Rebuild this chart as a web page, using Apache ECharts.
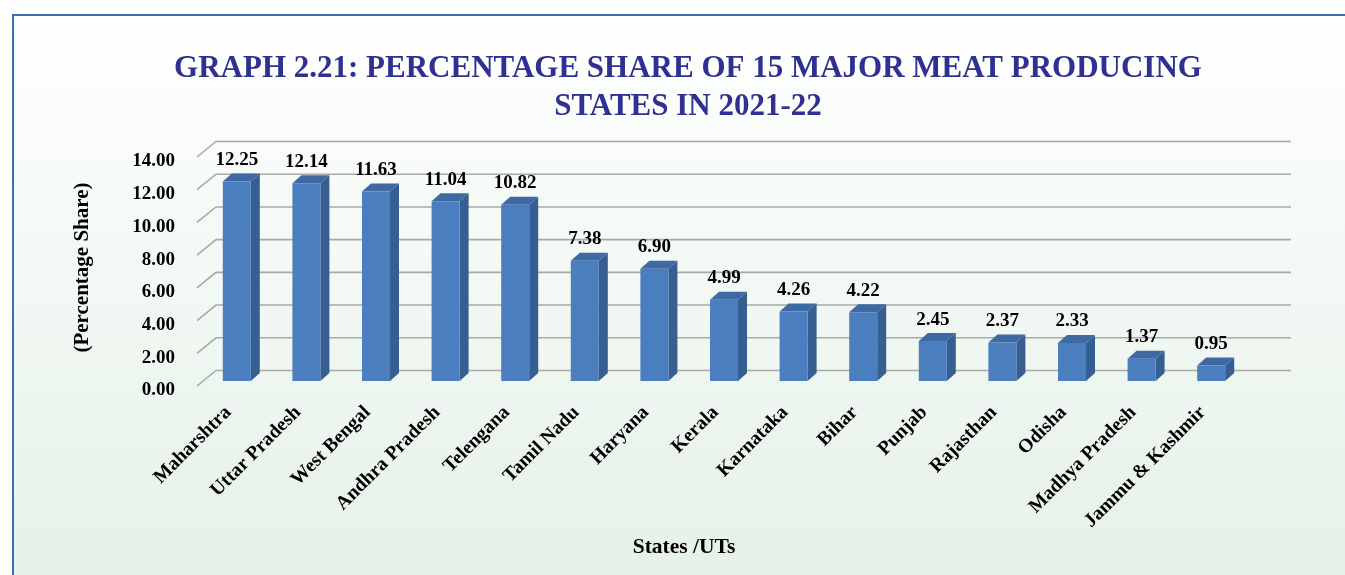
<!DOCTYPE html>
<html>
<head>
<meta charset="utf-8">
<title>Graph 2.21</title>
<script src="https://cdn.jsdelivr.net/npm/echarts@6/dist/echarts.min.js"></script>
<style>
  html, body { margin: 0; padding: 0; background: #fff; overflow: hidden; }
  #chart { width: 1345px; height: 575px; }
</style>
</head>
<body>
<div id="chart"></div>
<script>
// states, in the order of the graph
const states = ['Maharshtra', 'Uttar Pradesh', 'West Bengal', 'Andhra Pradesh', 'Telengana',
  'Tamil Nadu', 'Haryana', 'Kerala', 'Karnataka', 'Bihar', 'Punjab', 'Rajasthan', 'Odisha',
  'Madhya Pradesh', 'Jammu & Kashmir'];
// percentage share 2021-22
const shares = [12.25, 12.14, 11.63, 11.04, 10.82, 7.38, 6.90, 4.99, 4.26, 4.22, 2.45, 2.37, 2.33, 1.37, 0.95];
// y-axis ticks (drawn as the "3d" wall lines)
const yTicks = [0, 2, 4, 6, 8, 10, 12, 14];

const FONT = 'Liberation Serif';
const DEPTH_X = 9, DEPTH_Y = -8;      // bar depth
const WALL_X = 19, WALL_Y = -15.5;    // floor/wall depth

const chart = echarts.init(document.getElementById('chart'));

chart.setOption({
  animation: false,
  graphic: [{
    type: 'rect', z: -10, silent: true,
    shape: { x: 13, y: 15, width: 1400, height: 620 },
    style: {
      fill: new echarts.graphic.LinearGradient(0, 0, 0, 1, [
        { offset: 0, color: '#ffffff' },
        { offset: 1, color: '#e2f0e6' }
      ]),
      stroke: '#3c6eb4', lineWidth: 2
    }
  }],
  title: {
    text: 'GRAPH 2.21: PERCENTAGE SHARE OF 15 MAJOR MEAT PRODUCING\nSTATES IN 2021-22',
    left: 683, top: 45, textAlign: 'center',
    textStyle: { fontFamily: FONT, fontWeight: 'bold', fontSize: 31, lineHeight: 38, color: '#2e3192' }
  },
  // grid 0 = front plane of the floor (axis labels + wall lines), grid 1 = bars
  grid: [
    { left: 197, right: 73, top: 157, bottom: 189 },
    { left: 202, right: 99, top: 153, bottom: 194 }
  ],
  xAxis: [
    { gridIndex: 0, type: 'value', min: 0, max: 1, show: false },
    {
      gridIndex: 1, type: 'category', data: states,
      axisLine: { show: false }, axisTick: { show: false },
      axisLabel: {
        interval: 0, rotate: 45, margin: 20, padding: [0, 12, 0, 0],
        fontFamily: FONT, fontWeight: 'bold', fontSize: 19.5, color: '#000'
      },
      name: 'States /UTs', nameLocation: 'middle', nameGap: 155,
      nameTextStyle: { fontFamily: FONT, fontWeight: 'bold', fontSize: 21.5, color: '#000', padding: [0, 80, 0, 0] }
    }
  ],
  yAxis: [
    {
      gridIndex: 0, type: 'value', min: 0, max: 14, interval: 2,
      axisLine: { show: false }, axisTick: { show: false }, splitLine: { show: false },
      axisLabel: {
        margin: 22, formatter: v => v.toFixed(2), verticalAlign: 'top', lineHeight: 9,
        fontFamily: FONT, fontWeight: 'bold', fontSize: 19, color: '#000'
      },
      name: '(Percentage Share)', nameLocation: 'middle', nameGap: 104, nameRotate: 90,
      nameTextStyle: { fontFamily: FONT, fontWeight: 'bold', fontSize: 21, color: '#000', padding: [0, 0, 0, 8] }
    },
    { gridIndex: 1, type: 'value', min: 0, max: 14, interval: 2, show: false }
  ],
  series: [
    {
      // wall/floor lines
      type: 'custom', xAxisIndex: 0, yAxisIndex: 0, z: 1, silent: true,
      data: yTicks.map(v => [0, v]),
      renderItem(params, api) {
        const cs = params.coordSys;
        const p = api.coord([0, api.value(1)]);
        return {
          type: 'polyline',
          shape: { points: [
            [p[0], p[1]],
            [p[0] + WALL_X, p[1] + WALL_Y],
            [cs.x + cs.width + WALL_X, p[1] + WALL_Y]
          ] },
          style: { stroke: '#a9a9a9', lineWidth: 1.6, fill: null }
        };
      }
    },
    {
      // front face of bars + value labels
      type: 'bar', xAxisIndex: 1, yAxisIndex: 1, z: 3,
      data: shares, barWidth: 28,
      itemStyle: { color: '#4a7ebf' },
      label: {
        show: true, position: 'top', distance: 12,
        formatter: p => p.value.toFixed(2),
        fontFamily: FONT, fontWeight: 'bold', fontSize: 19, color: '#000'
      }
    },
    {
      // side + top faces
      type: 'custom', xAxisIndex: 1, yAxisIndex: 1, z: 2, silent: true,
      data: shares.map((v, i) => [i, v]),
      renderItem(params, api) {
        const top = api.coord([api.value(0), api.value(1)]);
        const base = api.coord([api.value(0), 0]);
        const l = top[0] - 14, r = top[0] + 14;
        return {
          type: 'group',
          children: [
            {
              type: 'polygon',
              shape: { points: [[r, base[1]], [r + DEPTH_X, base[1] + DEPTH_Y], [r + DEPTH_X, top[1] + DEPTH_Y], [r, top[1]]] },
              style: { fill: '#365e91' }
            },
            {
              type: 'polygon',
              shape: { points: [[l, top[1]], [l + DEPTH_X, top[1] + DEPTH_Y], [r + DEPTH_X, top[1] + DEPTH_Y], [r, top[1]]] },
              style: { fill: '#3e69a3' }
            }
          ]
        };
      }
    }
  ]
});
</script>
</body>
</html>
